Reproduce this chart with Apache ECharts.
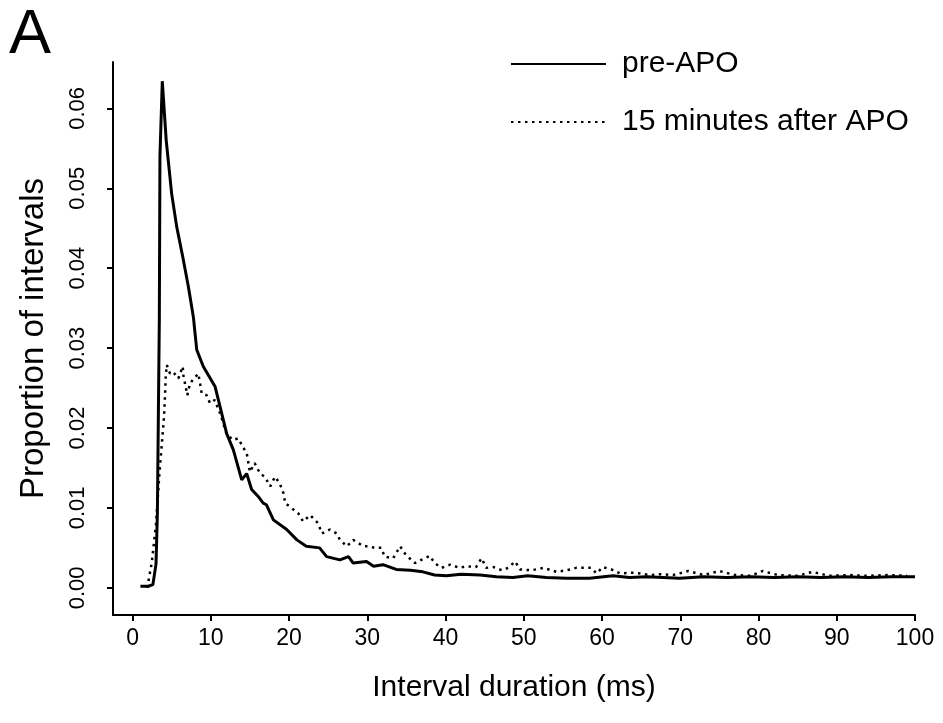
<!DOCTYPE html>
<html>
<head>
<meta charset="utf-8">
<script src="https://cdn.jsdelivr.net/npm/echarts@6/dist/echarts.min.js"></script>
<style>
html,body{margin:0;padding:0;background:#fff;}
#chart{width:943px;height:723px;}
</style>
</head>
<body>
<div id="chart"></div>
<script>
// ---- data ----
var seriesNames = ['pre-APO', '15 minutes after APO'];
var xTicks = [0, 10, 20, 30, 40, 50, 60, 70, 80, 90, 100];
var yTicks = [0, 0.01, 0.02, 0.03, 0.04, 0.05, 0.06];

var preX = [1.0, 2.0, 2.6, 3.0, 3.17, 3.3, 3.42, 3.5, 3.8, 4.3, 5.0, 5.64, 6.4, 7.13, 7.77, 8.2, 9.04, 10.54, 12.03, 12.87, 13.95, 14.58, 15.22, 16.0, 16.7, 17.1, 18.0, 19.7, 21.0, 22.2, 23.9, 24.8, 26.5, 27.6, 28.2, 29.9, 30.8, 32.0, 33.7, 35.5, 37.1, 38.6, 40.1, 42.0, 44.4, 46.5, 48.6, 50.5, 52.9, 55.5, 58.4, 61.4, 63.5, 65.7, 67.8, 69.9, 73.0, 76.0, 79.0, 82.0, 85.0, 88.0, 91.0, 94.0, 97.0, 100.0];
var preY = [0.0002, 0.0002, 0.0004, 0.003, 0.0093, 0.0218, 0.0335, 0.054, 0.0634, 0.056, 0.0493, 0.0452, 0.0415, 0.0377, 0.0339, 0.0298, 0.0277, 0.0252, 0.0193, 0.0173, 0.0135, 0.0143, 0.0123, 0.0115, 0.0106, 0.0104, 0.0085, 0.0073, 0.006, 0.0052, 0.005, 0.0039, 0.0035, 0.0039, 0.0031, 0.0033, 0.0027, 0.0029, 0.0023, 0.0022, 0.002, 0.0016, 0.0015, 0.0017, 0.0016, 0.0014, 0.0013, 0.0015, 0.0013, 0.0012, 0.0012, 0.0015, 0.0013, 0.0014, 0.0013, 0.0012, 0.0014, 0.0013, 0.0014, 0.0013, 0.0014, 0.0013, 0.0014, 0.0013, 0.0014, 0.0014];

var postX = [1.9, 2.02, 2.45, 3.0, 3.43, 3.64, 3.85, 4.02, 4.15, 4.24, 4.37, 4.79, 5.2, 5.85, 6.41, 6.49, 7.0, 7.34, 8.4, 8.62, 8.84, 9.47, 9.9, 10.5, 11.2, 12.0, 12.8, 13.5, 13.95, 14.6, 15.0, 15.6, 16.3, 16.9, 17.6, 18.2, 18.8, 19.3, 19.5, 20.3, 21.2, 21.8, 22.7, 23.7, 24.2, 25.2, 26.1, 26.5, 27.4, 28.2, 29.5, 30.1, 31.0, 31.8, 32.2, 33.3, 34.2, 34.8, 35.4, 36.1, 36.9, 38.0, 38.6, 39.5, 40.6, 41.8, 42.7, 43.9, 44.6, 45.2, 46.1, 47.2, 48.0, 48.9, 49.5, 51.0, 52.5, 54.2, 55.5, 56.7, 58.6, 59.3, 60.1, 61.2, 62.3, 64.2, 66.1, 67.4, 69.1, 71.0, 73.0, 75.0, 77.0, 79.0, 80.5, 82.5, 85.0, 86.9, 89.0, 91.5, 94.0, 96.5, 99.0];
var postY = [0.0, 0.0008, 0.0031, 0.008, 0.0143, 0.0168, 0.0193, 0.0214, 0.0241, 0.0264, 0.0279, 0.0268, 0.027, 0.0262, 0.0277, 0.0266, 0.0241, 0.0256, 0.0268, 0.0256, 0.0243, 0.0241, 0.0231, 0.0235, 0.0218, 0.0193, 0.0185, 0.0187, 0.0179, 0.0168, 0.0145, 0.0156, 0.0143, 0.0139, 0.0127, 0.0139, 0.0131, 0.0118, 0.0106, 0.01, 0.0093, 0.0083, 0.0091, 0.0081, 0.0068, 0.0073, 0.0068, 0.006, 0.0052, 0.006, 0.0052, 0.0052, 0.005, 0.005, 0.0039, 0.0037, 0.0052, 0.0043, 0.0037, 0.0031, 0.0035, 0.004, 0.0031, 0.0025, 0.0029, 0.0025, 0.0027, 0.0026, 0.0037, 0.0025, 0.0026, 0.0022, 0.0025, 0.0033, 0.0023, 0.0022, 0.0025, 0.002, 0.0022, 0.0025, 0.0025, 0.0018, 0.0026, 0.0023, 0.0018, 0.0019, 0.0016, 0.0017, 0.0016, 0.0021, 0.0016, 0.0021, 0.0016, 0.0015, 0.0021, 0.0016, 0.0015, 0.002, 0.0015, 0.0016, 0.0015, 0.0016, 0.0015];

function pairs(xs, ys) { return xs.map(function (x, i) { return [x, ys[i]]; }); }

var FONT = 'Liberation Sans, Arial, sans-serif';
var chart = echarts.init(document.getElementById('chart'), null, {renderer: 'canvas'});
chart.setOption({
  animation: false,
  backgroundColor: '#fff',
  textStyle: {fontFamily: FONT, color: '#000'},
  grid: {left: 113, right: 28, top: 62, bottom: 108, containLabel: false},
  graphic: [{
    type: 'text', left: 9, top: 4,
    style: {text: 'A', font: '63px ' + FONT, fill: '#000'}
  }],
  legend: {
    orient: 'vertical', left: 505, top: 44, itemWidth: 95, itemHeight: 14, itemGap: 28,
    itemStyle: {color: 'rgba(0,0,0,0)', borderWidth: 0, opacity: 0},
    textStyle: {fontSize: 30, fontFamily: FONT, color: '#000', padding: [0, 0, 0, 11]},
    data: seriesNames
  },
  xAxis: {
    type: 'value', min: -2.5, max: 100,
    name: 'Interval duration (ms)', nameLocation: 'middle', nameGap: 58,
    nameTextStyle: {fontSize: 30, fontFamily: FONT, color: '#000'},
    axisLine: {onZero: false, lineStyle: {color: '#000', width: 2}},
    axisTick: {show: true, length: 6, lineStyle: {color: '#000', width: 2}, customValues: xTicks},
    axisLabel: {fontSize: 23, color: '#000', margin: 12, customValues: xTicks},
    splitLine: {show: false}
  },
  yAxis: {
    type: 'value', min: -0.0034, max: 0.0658,
    name: 'Proportion of intervals', nameLocation: 'middle', nameGap: 63,
    nameTextStyle: {fontSize: 33, fontFamily: FONT, color: '#000'},
    axisLine: {show: true, onZero: false, lineStyle: {color: '#000', width: 2}},
    axisTick: {show: true, length: 6, lineStyle: {color: '#000', width: 2}, customValues: yTicks},
    axisLabel: {fontSize: 22, color: '#000', margin: 24, rotate: 90, customValues: yTicks,
      formatter: function (v) { return v.toFixed(2); }},
    splitLine: {show: false}
  },
  series: [{
    name: seriesNames[0], type: 'line', showSymbol: false, symbol: 'none',
    lineStyle: {color: '#000', width: 3}, itemStyle: {color: '#000'},
    data: pairs(preX, preY), z: 3
  }, {
    name: seriesNames[1], type: 'line', showSymbol: false, symbol: 'none',
    lineStyle: {color: '#000', width: 2.5, type: [2.5, 4.5]}, itemStyle: {color: '#000'},
    data: pairs(postX, postY), z: 2
  }]
});
</script>
</body>
</html>
